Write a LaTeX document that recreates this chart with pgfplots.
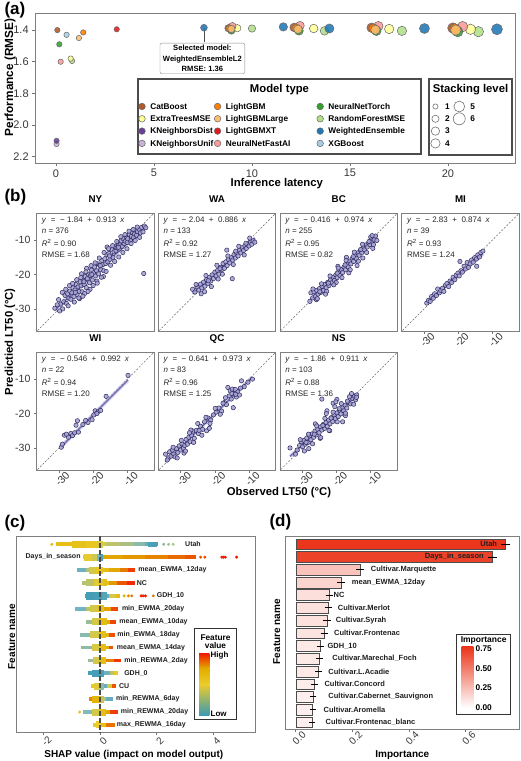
\documentclass[border=0pt]{standalone}
\usepackage{fontspec}
\setmainfont{Liberation Sans}
\usepackage{pgfplots}
\pgfplotsset{compat=1.18}

% Paired palette for model types
\definecolor{cCat}{HTML}{B15928}
\definecolor{cET}{HTML}{FFFF99}
\definecolor{cKD}{HTML}{6A3D9A}
\definecolor{cKU}{HTML}{CAB2D6}
\definecolor{cLG}{HTML}{FF7F00}
\definecolor{cLGL}{HTML}{FDBF6F}
\definecolor{cLGX}{HTML}{E31A1C}
\definecolor{cNNF}{HTML}{FB9A99}
\definecolor{cNNT}{HTML}{33A02C}
\definecolor{cRF}{HTML}{B2DF8A}
\definecolor{cWE}{HTML}{1F78B4}
\definecolor{cXGB}{HTML}{A6CEE3}
\definecolor{frm}{HTML}{7F7F7F}
\definecolor{ptfill}{HTML}{A7A3D6}
\definecolor{ptdraw}{HTML}{2F2B5C}
\definecolor{regline}{HTML}{6C68B4}
\definecolor{imp}{RGB}{235,52,25}
\definecolor{zA}{HTML}{3B9AB2}
\definecolor{zC}{HTML}{EBCC2A}
\definecolor{zD}{HTML}{E1AF00}
\definecolor{zE}{HTML}{F21A00}

\newcommand\fs[1]{\fontsize{#1}{#1}\selectfont}
\newcommand\eqn[2]{\textit{y}\hspace{4.5pt}=\hspace{4.5pt}−\hspace{2.5pt}#1\hspace{4.5pt}+\hspace{4.5pt}#2\hspace{4pt}\textit{x}}
\newcommand\stats[5]{%
  \node[st] at (rel axis cs:0.043,0.925) {\eqn{#1}{#2}};
  \node[st] at (rel axis cs:0.043,0.826) {\textit{n} = #3};
  \node[st] at (rel axis cs:0.043,0.722) {\textit{R}\textsuperscript{2} = #4};
  \node[st] at (rel axis cs:0.043,0.623) {RMSE = #5};}

\tikzset{
  st/.style={anchor=base west, inner sep=0pt, font=\fs{8}, text=black!85},
  fl/.style={inner sep=0pt, font=\fs{7}\bfseries, text=black!88},
  lg/.style={anchor=north west, draw=none, fill=none, inner sep=0pt,
    font=\fs{8.3}\bfseries, nodes={inner sep=1pt, text height=7.8pt, text depth=2.5pt},
    row sep=0pt, /tikz/every odd column/.append style={column sep=4pt}},
}

\pgfplotsset{
  gg/.style={scale only axis, anchor=north west,
    axis line style={draw=frm, line width=0.9pt},
    tick style={draw=black!55, line width=0.6pt},
    tick align=outside, major tick length=2.8pt, tick pos=left,
    tick label style={font=\fs{10}, text=black!78},
    /pgf/number format/assume math mode=true},
  rot/.style={xticklabel style={yshift=-2.5pt, rotate=45, anchor=north, inner sep=1pt}},
  mt/.style={scatter, only marks, mark=*, forget plot, point meta=\thisrow{r},
    scatter/use mapped color={draw=black!60, fill=#1, fill opacity=0.88, line width=0.5pt},
    visualization depends on={\thisrow{r} \as \rr},
    scatter/@pre marker code/.append style={/tikz/mark size=\rr pt}},
  mk/.style={only marks, mark=*, mark size=3.3pt, mark options={fill=#1, draw=black!60, line width=0.5pt}},
  sl/.style={only marks, mark=*, mark options={fill=white, draw=black!55, line width=0.6pt}},
  bp/.style={gg, width=117.3pt, height=118pt, xmin=-36.5, xmax=-2.2, ymin=-36.5, ymax=-2.2,
    xtick={-30,-20,-10}, ytick={-30,-20,-10}, rot, tick label style={font=\fs{10.5}},
    title style={font=\fs{9.8}\bfseries, at={(0.5,1)}, anchor=base, yshift=4.5pt, inner sep=0pt}},
  diag/.style={black!60, line width=0.5pt, dash pattern=on 2pt off 1.6pt, forget plot},
  pts/.style={only marks, mark=*, mark size=2.2pt, mark options={fill=ptfill, draw=ptdraw, line width=0.5pt, fill opacity=0.9}},
  rib/.style={regline!50, line width=3.8pt, opacity=0.55},
  rl/.style={regline, line width=1.3pt},
  sw/.style={mesh, point meta=explicit, line width=#1, forget plot},
  dt/.style={scatter, only marks, mark=*, mark size=1.3pt, point meta=explicit,
    scatter/use mapped color={draw=mapped color, fill=mapped color}},
  br/.style={fill=imp!#1!white, draw=black!70, line width=0.5pt,
    error bars/x dir=both, error bars/x explicit,
    error bars/error bar style={black, line width=0.9pt},
    error bars/error mark options={black, mark size=2.6pt, line width=0.9pt}},
}

\begin{document}
\begin{tikzpicture}[x=1pt,y=1pt]
\useasboundingbox (0,0) rectangle (520,761);

% ================= (a) =================
\begin{axis}[gg, at={(35pt,748pt)}, width=480pt, height=150pt,
  xmin=-1.07, xmax=23.42, ymin=1.292, ymax=2.24, y dir=reverse,
  xtick={0,5,10,15,20}, ytick={1.4,1.6,1.8,2.0,2.2},
  tick label style={font=\fs{11}},
  yticklabel style={/pgf/number format/.cd, fixed, fixed zerofill, precision=1}]
\draw[black!70, line width=0.6pt] (axis cs:7.55,1.385) -- (axis cs:7.55,1.474);
\addplot[mt=cRF] table[row sep=\\]{x y r\\ 0.82 1.595 2.7\\ 10.0 1.390 3.7\\ 13.7 1.405 4.3\\ 17.65 1.405 4.7\\ 21.55 1.410 5.2\\};
\addplot[mt=cET] table[row sep=\\]{x y r\\ 0.75 1.580 2.7\\ 9.25 1.388 3.7\\ 13.15 1.390 4.3\\ 17.0 1.393 4.7\\ 21.15 1.395 5.2\\};
\addplot[mt=cXGB] table[row sep=\\]{x y r\\ 0.54 1.430 2.7\\};
\addplot[mt=cKU] table[row sep=\\]{x y r\\ 0.03 2.120 2.7\\};
\addplot[mt=cKD] table[row sep=\\]{x y r\\ 0.03 2.100 2.7\\};
\addplot[mt=cLGX] table[row sep=\\]{x y r\\ 3.10 1.395 2.7\\};
\addplot[mt=cWE] table[row sep=\\]{x y r\\ 7.55 1.385 3.4\\ 11.6 1.380 4.2\\ 13.95 1.390 4.6\\ 18.8 1.390 5.0\\ 22.5 1.395 5.5\\};
\addplot[mt=cNNF] table[row sep=\\]{x y r\\ 0.24 1.600 2.7\\ 9.0 1.375 3.7\\ 12.45 1.372 4.3\\ 16.45 1.375 4.7\\ 20.75 1.378 5.2\\};
\addplot[mt=cNNT] table[row sep=\\]{x y r\\ 0.17 1.490 2.7\\ 8.95 1.403 3.7\\ 12.4 1.405 4.3\\ 16.35 1.405 4.7\\ 20.5 1.410 5.2\\};
\addplot[mt=cCat] table[row sep=\\]{x y r\\ 0.07 1.400 2.7\\ 8.80 1.388 3.7\\ 12.15 1.383 4.3\\ 16.10 1.385 4.7\\ 20.25 1.387 5.2\\};
\addplot[mt=cLG] table[row sep=\\]{x y r\\ 1.39 1.415 2.7\\ 8.85 1.390 3.7\\ 12.25 1.388 4.3\\ 16.2 1.390 4.7\\ 20.35 1.392 5.2\\};
\addplot[mt=cLGL] table[row sep=\\]{x y r\\ 1.17 1.450 2.7\\ 8.95 1.393 3.7\\ 12.35 1.395 4.3\\ 16.3 1.398 4.7\\ 20.4 1.400 5.2\\};
\node[draw=black!45, fill=white, rounded corners=2pt, align=center,
  font=\fontsize{7.6}{10.5}\selectfont\bfseries, inner xsep=3pt, inner ysep=2pt]
  at (axis cs:7.47,1.579) {Selected model:\\WeightedEnsembleL2\\RMSE: 1.36};
\end{axis}

% model type legend
\draw[black!70, line width=1.1pt, fill=white] (138,682) rectangle (421,607);
\node[font=\fs{11.3}\bfseries] at (279.5,671) {Model type};
\begin{axis}[scale only axis, hide axis, anchor=north west, at={(35pt,748pt)}, width=480pt, height=150pt,
  xmin=0, xmax=1, ymin=0, ymax=1, legend columns=4, transpose legend, legend cell align=left,
  legend style={lg, at={(0.2156,0.419)}}]
\addplot[draw=none, forget plot] coordinates {(0,0)};
\addlegendimage{mk=cCat}\addlegendentry{\makebox[63pt][l]{CatBoost}}
\addlegendimage{mk=cET}\addlegendentry{\makebox[63pt][l]{ExtraTreesMSE}}
\addlegendimage{mk=cKD}\addlegendentry{\makebox[63pt][l]{KNeighborsDist}}
\addlegendimage{mk=cKU}\addlegendentry{\makebox[63pt][l]{KNeighborsUnif}}
\addlegendimage{mk=cLG}\addlegendentry{\makebox[90pt][l]{LightGBM}}
\addlegendimage{mk=cLGL}\addlegendentry{\makebox[90pt][l]{LightGBMLarge}}
\addlegendimage{mk=cLGX}\addlegendentry{\makebox[90pt][l]{LightGBMXT}}
\addlegendimage{mk=cNNF}\addlegendentry{\makebox[90pt][l]{NeuralNetFastAI}}
\addlegendimage{mk=cNNT}\addlegendentry{NeuralNetTorch}
\addlegendimage{mk=cRF}\addlegendentry{RandomForestMSE}
\addlegendimage{mk=cWE}\addlegendentry{WeightedEnsemble}
\addlegendimage{mk=cXGB}\addlegendentry{XGBoost}
\end{axis}

% stacking level legend
\draw[black!70, line width=1.1pt, fill=white] (429,682) rectangle (512,606);
\node[font=\fs{11.3}\bfseries] at (470.5,671) {Stacking level};
\begin{axis}[scale only axis, hide axis, anchor=north west, at={(35pt,748pt)}, width=480pt, height=150pt,
  xmin=0, xmax=1, ymin=0, ymax=1, legend columns=2, legend cell align=left,
  legend style={lg, at={(0.824,0.419)}}]
\addplot[draw=none, forget plot] coordinates {(0,0)};
\addlegendimage{sl, mark size=2.6pt}\addlegendentry{1}
\addlegendimage{sl, mark size=5.4pt}\addlegendentry{5}
\addlegendimage{sl, mark size=3.6pt}\addlegendentry{2}
\addlegendimage{sl, mark size=6pt}\addlegendentry{6}
\addlegendimage{sl, mark size=4.2pt}\addlegendentry{3}
\addlegendimage{empty legend}\addlegendentry{}
\addlegendimage{sl, mark size=4.7pt}\addlegendentry{4}
\addlegendimage{empty legend}\addlegendentry{}
\end{axis}

\node[anchor=west, font=\fs{17}\bfseries] at (1,751) {(a)};
\node[rotate=90, font=\fs{11.8}\bfseries] at (10,683.5) {Performance (RMSE)};
\node[font=\fs{11.3}\bfseries] at (276.8,577) {Inference latency};

% ================= (b) =================
\begin{axis}[bp, at={(36.7pt,547.7pt)}, title=NY, xtick=\empty]
\addplot[diag] coordinates {(-40,-40) (0,0)};
\addplot[pts] coordinates {(-31.2,-29.8) (-30.1,-27.3) (-29.5,-28.6) (-29.0,-25.2) (-28.6,-27.9) (-28.2,-26.1) (-27.8,-28.4) (-27.5,-25.6) (-27.1,-26.9) (-26.8,-24.8) (-26.5,-27.2) (-26.2,-25.3) (-25.9,-23.9) (-25.6,-26.4) (-25.3,-24.5) (-25.0,-22.9) (-24.7,-25.8) (-24.4,-23.6) (-24.1,-24.9) (-23.8,-22.1) (-23.5,-23.3) (-23.2,-25.0) (-22.9,-21.8) (-22.6,-22.9) (-22.3,-20.6) (-22.0,-23.8) (-21.7,-21.2) (-21.4,-19.9) (-21.1,-22.4) (-20.8,-20.3) (-20.5,-18.7) (-20.2,-21.6) (-19.9,-19.5) (-19.6,-17.8) (-19.3,-20.4) (-19.0,-18.9) (-18.7,-16.9) (-18.4,-19.8) (-18.1,-17.3) (-17.8,-18.6) (-17.5,-15.9) (-17.2,-17.1) (-16.9,-18.9) (-16.6,-15.4) (-16.3,-16.8) (-16.0,-14.2) (-15.7,-16.3) (-15.4,-13.9) (-15.1,-15.6) (-14.8,-14.6) (-14.5,-12.8) (-14.2,-15.0) (-13.9,-13.4) (-13.6,-11.9) (-13.3,-13.1) (-13.0,-12.2) (-12.7,-10.9) (-12.4,-12.6) (-12.1,-11.4) (-11.8,-10.2) (-11.5,-11.8) (-11.2,-9.6) (-10.9,-11.0) (-10.6,-10.3) (-10.3,-9.1) (-10.0,-10.7) (-9.7,-9.5) (-9.4,-8.4) (-9.1,-10.1) (-8.8,-8.9) (-8.5,-7.8) (-8.2,-9.3) (-7.9,-8.2) (-7.6,-7.1) (-7.3,-8.6) (-7.0,-7.5) (-6.6,-6.8) (-6.2,-7.9) (-5.8,-6.3) (-5.4,-7.6) (-5.0,-5.9) (-4.6,-6.4) (-5.2,-19.7) (-26.9,-23.2) (-24.0,-27.0) (-20.9,-24.3) (-22.5,-25.5) (-18.9,-21.9) (-17.0,-20.6) (-15.9,-12.0) (-28.9,-30.0) (-23.4,-19.8) (-21.9,-18.2)
 (-30.5,-28.8) (-29.8,-30.6) (-28.0,-24.3) (-27.3,-29.1) (-26.0,-22.6) (-25.5,-28.0) (-24.8,-21.5) (-24.2,-26.8) (-23.6,-20.9) (-23.0,-26.3) (-22.1,-19.2) (-21.5,-24.9) (-20.6,-17.4) (-20.0,-23.2) (-19.4,-16.6) (-18.8,-22.5) (-18.2,-15.2) (-17.6,-20.8) (-16.8,-13.6) (-16.2,-19.1) (-15.5,-12.5) (-14.9,-17.3) (-14.3,-11.6) (-13.7,-16.2) (-13.1,-10.4) (-12.5,-14.9) (-11.9,-9.0) (-11.3,-13.6) (-10.7,-8.4) (-10.1,-12.5) (-9.5,-7.4) (-8.9,-11.0) (-8.3,-6.9) (-7.7,-10.1) (-7.1,-6.2) (-6.4,-9.2) (-25.2,-25.2) (-22.7,-22.1) (-20.4,-20.0) (-17.9,-17.4) (-15.2,-14.6) (-12.6,-12.1) (-9.9,-9.6)};
\addplot[rib] coordinates {(-31.2,-30.33) (-4.6,-6.04)};
\addplot[rl] coordinates {(-31.2,-30.33) (-4.6,-6.04)};
\stats{1.84}{0.913}{376}{0.90}{1.68}
\end{axis}

\begin{axis}[bp, at={(158.4pt,547.7pt)}, title=WA, xtick=\empty, ytick=\empty]
\addplot[diag] coordinates {(-40,-40) (0,0)};
\addplot[pts] coordinates {(-26.5,-24.3) (-25.8,-25.1) (-25.2,-23.6) (-24.7,-24.5) (-24.2,-22.8) (-23.8,-23.9) (-23.3,-22.2) (-22.9,-23.4) (-22.4,-21.5) (-22.0,-22.6) (-21.6,-20.8) (-21.2,-21.9) (-20.8,-20.1) (-20.4,-21.2) (-20.0,-19.3) (-19.6,-20.4) (-19.2,-18.8) (-18.8,-19.9) (-18.4,-17.9) (-18.0,-18.6) (-17.6,-16.8) (-17.2,-18.2) (-16.8,-16.3) (-16.4,-17.4) (-16.0,-15.6) (-15.6,-16.6) (-15.2,-15.1) (-14.8,-15.8) (-14.4,-14.2) (-14.0,-15.2) (-13.6,-13.8) (-13.2,-14.6) (-12.8,-12.9) (-12.4,-13.7) (-12.0,-12.2) (-11.6,-13.0) (-11.2,-11.6) (-10.8,-12.4) (-10.4,-11.1) (-10.0,-11.7) (-9.6,-10.6) (-9.2,-11.2) (-8.8,-10.2) (-8.3,-10.6) (-14.9,-21.2) (-16.5,-12.9) (-23.0,-25.0) (-19.0,-21.3)
 (-25.5,-22.9) (-24.0,-25.6) (-22.6,-20.3) (-21.0,-23.5) (-19.4,-17.3) (-17.8,-19.9) (-16.2,-14.6) (-14.6,-17.1) (-13.0,-11.8) (-11.4,-14.3) (-9.8,-9.4) (-21.9,-21.8) (-18.5,-18.3) (-13.9,-13.2) (-10.9,-10.9)};
\addplot[rib] coordinates {(-26.5,-25.52) (-8.3,-9.39)};
\addplot[rl] coordinates {(-26.5,-25.52) (-8.3,-9.39)};
\stats{2.04}{0.886}{133}{0.92}{1.27}
\end{axis}

\begin{axis}[bp, at={(280.1pt,547.7pt)}, title=BC, xtick=\empty, ytick=\empty]
\addplot[diag] coordinates {(-40,-40) (0,0)};
\addplot[pts] coordinates {(-27.5,-25.3) (-27.0,-26.8) (-26.6,-25.0) (-26.2,-26.3) (-25.8,-24.6) (-25.4,-25.7) (-25.0,-24.1) (-24.6,-25.2) (-24.2,-23.5) (-23.8,-24.6) (-23.4,-22.9) (-23.0,-23.8) (-22.6,-22.3) (-22.2,-23.2) (-21.8,-21.6) (-21.4,-22.4) (-21.0,-20.8) (-20.6,-21.7) (-20.2,-20.1) (-19.8,-20.9) (-19.4,-19.2) (-19.0,-20.3) (-18.6,-18.6) (-18.2,-19.4) (-17.8,-17.8) (-17.4,-18.6) (-17.0,-16.9) (-16.6,-17.8) (-16.2,-16.1) (-15.8,-16.9) (-15.4,-15.3) (-15.0,-16.2) (-14.6,-14.5) (-14.2,-15.3) (-13.8,-13.7) (-13.4,-14.4) (-13.0,-12.9) (-12.6,-13.6) (-12.2,-12.1) (-11.8,-12.8) (-11.4,-11.4) (-11.0,-12.0) (-10.6,-10.8) (-10.2,-11.3) (-9.8,-9.4) (-9.4,-10.5) (-9.0,-9.9) (-8.6,-8.8) (-8.2,-10.1) (-25.9,-27.3) (-22.9,-24.9) (-20.1,-22.3) (-17.1,-15.0) (-14.0,-17.4) (-12.3,-15.2) (-9.4,-12.4) (-16.4,-19.5) (-19.6,-17.6)
 (-27.8,-27.8) (-26.9,-24.2) (-25.6,-27.0) (-24.4,-22.7) (-23.2,-25.7) (-21.9,-20.4) (-20.8,-23.0) (-19.5,-18.1) (-18.4,-20.9) (-17.2,-15.9) (-16.0,-18.6) (-14.8,-13.5) (-13.6,-16.1) (-12.4,-11.2) (-11.2,-13.6) (-10.0,-9.1) (-9.2,-11.3) (-24.9,-25.0) (-22.4,-22.5) (-19.8,-19.6) (-17.5,-17.2) (-15.1,-14.8) (-12.9,-12.7) (-10.5,-10.4) (-9.6,-8.7)};
\addplot[rib] coordinates {(-27.5,-27.20) (-8.2,-8.40)};
\addplot[rl] coordinates {(-27.5,-27.20) (-8.2,-8.40)};
\stats{0.416}{0.974}{255}{0.95}{0.82}
\end{axis}

\begin{axis}[bp, at={(401.8pt,547.7pt)}, title=MI, ytick=\empty]
\addplot[diag] coordinates {(-40,-40) (0,0)};
\addplot[pts] coordinates {(-29.2,-28.3) (-28.7,-27.5) (-28.2,-27.8) (-27.8,-26.4) (-27.3,-26.9) (-26.9,-25.6) (-26.4,-26.1) (-26.0,-24.2) (-25.5,-25.3) (-25.1,-24.6) (-24.6,-24.0) (-24.2,-24.9) (-23.7,-23.1) (-23.3,-22.6) (-22.8,-23.5) (-22.4,-21.9) (-21.9,-22.3) (-21.5,-20.8) (-21.0,-21.5) (-20.6,-20.2) (-20.1,-19.6) (-19.7,-20.4) (-19.2,-18.9) (-18.8,-19.3) (-18.3,-17.6) (-17.9,-18.4) (-17.4,-16.5) (-17.0,-17.9) (-16.5,-16.9) (-16.1,-15.8) (-15.6,-16.4) (-15.2,-15.1) (-14.7,-15.5) (-14.3,-14.3) (-13.8,-14.9) (-13.4,-13.6) (-12.8,-13.2) (-14.6,-17.6) (-19.5,-16.2)};
\addplot[rib] coordinates {(-29.2,-28.35) (-12.8,-14.02)};
\addplot[rl] coordinates {(-29.2,-28.35) (-12.8,-14.02)};
\stats{2.83}{0.874}{39}{0.93}{1.24}
\end{axis}

\begin{axis}[bp, at={(36.7pt,408.7pt)}, title=WI]
\addplot[diag] coordinates {(-40,-40) (0,0)};
\addplot[pts] coordinates {(-29.3,-29.8) (-29.0,-28.9) (-28.4,-26.3) (-27.2,-26.9) (-26.5,-25.8) (-26.0,-26.4) (-25.4,-25.6) (-25.0,-23.4) (-24.6,-22.1) (-24.3,-25.4) (-23.0,-23.2) (-21.5,-22.6) (-20.3,-21.8) (-19.8,-20.4) (-19.4,-19.2) (-18.6,-19.5) (-17.8,-19.1) (-16.2,-15.0) (-27.8,-26.0) (-22.2,-22.0) (-18.9,-20.0) (-9.8,-8.9)};
\addplot[rib] coordinates {(-29.3,-29.61) (-9.8,-10.27)};
\addplot[rl] coordinates {(-29.3,-29.61) (-9.8,-10.27)};
\stats{0.546}{0.992}{22}{0.94}{1.20}
\end{axis}

\begin{axis}[bp, at={(158.4pt,408.7pt)}, title=QC, ytick=\empty]
\addplot[diag] coordinates {(-40,-40) (0,0)};
\addplot[pts] coordinates {(-34.4,-31.8) (-33.6,-32.9) (-33.2,-31.1) (-32.8,-32.4) (-32.4,-30.6) (-32.0,-31.8) (-31.6,-32.6) (-31.2,-30.2) (-30.8,-31.3) (-30.4,-29.4) (-30.0,-30.6) (-29.6,-28.8) (-29.2,-30.1) (-28.8,-29.3) (-28.4,-27.5) (-28.0,-28.9) (-27.6,-26.9) (-27.2,-28.2) (-26.8,-26.4) (-26.4,-25.1) (-26.0,-27.2) (-25.4,-24.9) (-24.8,-25.8) (-24.2,-23.7) (-23.6,-24.6) (-23.0,-22.4) (-22.4,-25.0) (-22.0,-21.3) (-21.6,-24.3) (-21.2,-21.9) (-20.4,-20.4) (-19.6,-19.6) (-18.8,-18.4) (-18.0,-19.3) (-17.2,-16.8) (-16.6,-17.4) (-16.2,-12.4) (-15.8,-14.9) (-15.5,-13.4) (-15.2,-15.8) (-14.9,-12.9) (-14.6,-18.3) (-14.3,-14.1) (-14.0,-13.0) (-13.7,-15.2) (-13.3,-13.7) (-12.8,-14.6) (-12.2,-10.5) (-11.4,-12.2) (-9.0,-10.0) (-29.0,-31.5) (-27.0,-24.8)
 (-33.9,-33.5) (-32.2,-29.8) (-31.0,-32.9) (-29.8,-27.8) (-28.6,-30.9) (-27.4,-25.6) (-26.2,-28.4) (-25.0,-22.9) (-23.8,-26.3) (-22.6,-21.1) (-21.4,-22.9) (-19.9,-18.5) (-18.4,-20.2) (-16.9,-15.4) (-15.0,-14.2) (-13.9,-14.4) (-12.5,-12.6) (-10.3,-10.9) (-24.6,-24.9) (-17.6,-17.0)};
\addplot[rib] coordinates {(-34.4,-34.11) (-9.0,-9.40)};
\addplot[rl] coordinates {(-34.4,-34.11) (-9.0,-9.40)};
\stats{0.641}{0.973}{83}{0.96}{1.25}
\end{axis}

\begin{axis}[bp, at={(280.1pt,408.7pt)}, title=NS, ytick=\empty]
\addplot[diag] coordinates {(-40,-40) (0,0)};
\addplot[pts] coordinates {(-33.6,-30.0) (-31.5,-30.6) (-30.8,-29.3) (-30.3,-28.2) (-29.9,-29.6) (-29.5,-27.8) (-29.1,-28.9) (-28.7,-27.1) (-28.3,-28.4) (-27.9,-26.5) (-27.5,-27.6) (-27.1,-25.9) (-26.7,-26.9) (-26.3,-25.1) (-25.9,-26.2) (-25.5,-24.6) (-25.1,-25.6) (-24.7,-23.9) (-24.3,-24.8) (-23.9,-23.2) (-23.5,-24.3) (-23.1,-22.6) (-22.7,-23.7) (-22.3,-21.9) (-21.9,-23.0) (-21.5,-21.2) (-21.1,-22.3) (-20.7,-20.4) (-20.3,-21.5) (-19.9,-19.8) (-19.5,-20.9) (-19.1,-19.0) (-18.7,-20.1) (-18.3,-18.4) (-17.9,-19.2) (-17.5,-17.6) (-17.0,-18.4) (-16.5,-16.9) (-15.9,-17.2) (-15.3,-15.6) (-14.8,-14.9) (-14.4,-16.0) (-14.1,-14.6) (-24.3,-15.8) (-19.9,-15.9) (-21.0,-17.0) (-22.8,-19.2) (-26.2,-23.0) (-28.1,-30.2) (-24.8,-27.2) (-22.0,-25.0) (-18.2,-22.4) (-20.5,-18.0) (-17.4,-20.6)
 (-32.0,-31.8) (-30.6,-27.6) (-29.4,-30.9) (-28.2,-26.0) (-27.0,-28.8) (-25.8,-23.6) (-24.6,-27.0) (-23.4,-21.4) (-22.2,-24.9) (-21.0,-19.6) (-19.8,-22.4) (-18.6,-17.1) (-17.4,-19.9) (-16.2,-15.1) (-15.0,-17.3) (-14.2,-15.3) (-28.9,-28.4) (-26.5,-26.0) (-24.0,-23.5) (-21.6,-21.3) (-19.2,-18.6) (-16.8,-16.4) (-23.0,-20.0) (-20.2,-16.6) (-15.6,-14.2)};
\addplot[rib] coordinates {(-33.6,-32.47) (-14.1,-14.71)};
\addplot[rl] coordinates {(-33.6,-32.47) (-14.1,-14.71)};
\stats{1.86}{0.911}{103}{0.88}{1.36}
\end{axis}

\node[anchor=west, font=\fs{17}\bfseries] at (1,564) {(b)};
\node[rotate=90, font=\fs{11.3}\bfseries] at (10,419.3) {Predictied LT50 (°C)};
\node[font=\fs{11.3}\bfseries] at (279,268) {Observed LT50 (°C)};

% ================= (c) =================
\begin{axis}[gg, at={(16.7pt,225pt)}, width=238.3pt, height=196.7pt,
  xmin=-2.94, xmax=5.47, ymin=0.36, ymax=15.6, y dir=reverse,
  ytick=\empty, xtick={-2,0,2,4}, rot,
  colormap={zis}{rgb255=(59,154,178) rgb255=(120,183,197) rgb255=(235,204,42) rgb255=(225,175,0) rgb255=(242,26,0)},
  point meta min=0, point meta max=1]
% Utah
\addplot[sw=3.8pt] coordinates {(-1.55,1)[0.62] (-1.1,1)[0.6] (-0.6,1)[0.57] (-0.2,1)[0.52] (0.2,1)[0.42] (0.7,1)[0.38] (1.2,1)[0.33] (1.6,1)[0.25] (1.85,1)[0.1] (2.05,1)[0.05]};
\addplot[sw=6.5pt] coordinates {(-1.0,1)[0.6] (-0.5,1)[0.58] (-0.1,1)[0.5] (0.1,1)[0.42]};
\addplot[sw=5.5pt] coordinates {(1.7,1)[0.08] (1.85,1)[0.05] (2.0,1)[0.05]};
% Days_in_season
\addplot[sw=3.5pt] coordinates {(-0.6,2)[0.45] (-0.3,2)[0.5] (0,2)[0.3] (0.05,2)[0.75] (0.8,2)[0.78] (1.6,2)[0.8] (2.4,2)[0.85] (3.0,2)[0.88] (3.4,2)[0.92]};
\addplot[sw=7pt] coordinates {(-0.55,2)[0.5] (-0.3,2)[0.48] (-0.1,2)[0.4] (0.0,2)[0.1] (0.12,2)[0.05]};
% mean_EWMA_12day
\addplot[sw=3.8pt] coordinates {(-0.82,3)[0.1] (-0.5,3)[0.3] (-0.2,3)[0.45] (0,3)[0.55] (0.3,3)[0.72] (0.7,3)[0.8] (1.0,3)[0.88] (1.25,3)[1]};
\addplot[sw=7pt] coordinates {(-0.4,3)[0.4] (-0.15,3)[0.5] (0.1,3)[0.6]};
% NC
\addplot[sw=3.8pt] coordinates {(-0.65,4)[0.35] (-0.3,4)[0.4] (0,4)[0.5] (0.3,4)[0.72] (0.6,4)[0.85] (0.95,4)[0.95] (1.22,4)[1]};
\addplot[sw=7pt] coordinates {(-0.5,4)[0.38] (-0.2,4)[0.42] (0.1,4)[0.55] (0.25,4)[0.7]};
% GDH_10
\addplot[sw=3.5pt] coordinates {(-0.53,5)[0.05] (0,5)[0.05] (0.3,5)[0.3] (0.55,5)[0.6] (0.7,5)[0.7]};
\addplot[sw=7.5pt] coordinates {(-0.5,5)[0.05] (-0.2,5)[0.02] (0.1,5)[0.08] (0.25,5)[0.15]};
% min_EWMA_20day
\addplot[sw=3.8pt] coordinates {(-0.88,6)[0.15] (-0.5,6)[0.3] (-0.15,6)[0.48] (0.15,6)[0.7] (0.4,6)[0.85] (0.62,6)[1]};
\addplot[sw=7pt] coordinates {(-0.35,6)[0.4] (-0.1,6)[0.5] (0.15,6)[0.7]};
% mean_EWMA_10day
\addplot[sw=3.8pt] coordinates {(-0.5,7)[0.2] (-0.2,7)[0.45] (0.1,7)[0.65] (0.35,7)[0.85] (0.57,7)[1]};
\addplot[sw=7pt] coordinates {(-0.3,7)[0.4] (-0.05,7)[0.5] (0.25,7)[0.78]};
% min_EWMA_18day
\addplot[sw=3.8pt] coordinates {(-0.7,8)[0.15] (-0.3,8)[0.42] (0.05,8)[0.6] (0.3,8)[0.82] (0.52,8)[1]};
\addplot[sw=7pt] coordinates {(-0.35,8)[0.4] (-0.05,8)[0.5] (0.2,8)[0.75]};
% mean_EWMA_14day
\addplot[sw=3.8pt] coordinates {(-0.67,9)[0.2] (-0.3,9)[0.4] (0.05,9)[0.6] (0.3,9)[0.85] (0.47,9)[0.95]};
\addplot[sw=7pt] coordinates {(-0.3,9)[0.42] (-0.05,9)[0.5] (0.2,9)[0.75]};
% min_REWMA_2day
\addplot[sw=3.8pt] coordinates {(-0.41,10)[0.15] (-0.1,10)[0.5] (0.2,10)[0.75] (0.5,10)[0.9] (0.74,10)[1]};
\addplot[sw=7pt] coordinates {(-0.25,10)[0.4] (0,10)[0.5] (0.2,10)[0.75]};
% GDH_0
\addplot[sw=3.8pt] coordinates {(-0.41,11)[0.05] (-0.1,11)[0.05] (0.15,11)[0.1] (0.35,11)[0.3] (0.5,11)[0.5] (0.65,11)[0.55]};
\addplot[sw=7pt] coordinates {(-0.3,11)[0.05] (-0.05,11)[0.02] (0.15,11)[0.1]};
% CU
\addplot[sw=3.8pt] coordinates {(-0.33,12)[0.55] (-0.1,12)[0.5] (0.05,12)[0.25] (0.25,12)[0.1] (0.42,12)[0.8] (0.58,12)[1]};
\addplot[sw=7pt] coordinates {(-0.2,12)[0.5] (0,12)[0.45] (0.15,12)[0.15]};
% min_REWMA_6day
\addplot[sw=3.8pt] coordinates {(-0.4,13)[0.9] (-0.2,13)[0.75] (0,13)[0.5] (0.2,13)[0.25] (0.45,13)[0.1]};
\addplot[sw=7pt] coordinates {(-0.3,13)[0.85] (-0.05,13)[0.55] (0.15,13)[0.3]};
% min_REWMA_20day
\addplot[sw=3.8pt] coordinates {(-0.6,14)[0.15] (-0.25,14)[0.4] (0.05,14)[0.65] (0.35,14)[0.88] (0.63,14)[1]};
\addplot[sw=7pt] coordinates {(-0.3,14)[0.4] (-0.05,14)[0.5] (0.2,14)[0.75]};
% max_REWMA_16day
\addplot[sw=3.8pt] coordinates {(-0.24,15)[0.45] (0,15)[0.5] (0.2,15)[0.75] (0.53,15)[0.95]};
\addplot[sw=7pt] coordinates {(-0.15,15)[0.45] (0.05,15)[0.55]};
% sparse tail points
\addplot[dt] coordinates {(-1.7,1)[0.7] (2.25,1)[0.3] (2.42,1)[0.35] (2.58,1)[0.35]
  (3.55,2)[0.9] (3.7,2)[0.92] (4.3,2)[1] (4.36,2)[1] (4.42,2)[1] (4.82,2)[1]
  (0.85,5)[0.75] (1.0,5)[0.8] (1.12,5)[0.85] (1.45,5)[1] (1.52,5)[1] (1.6,5)[1] (1.88,5)[0.85]
  (-0.72,14)[0.55]};
\draw[black!70, line width=1.1pt, dash pattern=on 5pt off 2pt] (axis cs:0,0.36) -- (axis cs:0,15.6);
\node[fl, anchor=west] at (axis cs:3.0,1) {Utah};
\node[fl, anchor=east] at (axis cs:-0.68,2) {Days\_in\_season};
\node[fl, anchor=west] at (axis cs:1.35,3) {mean\_EWMA\_12day};
\node[fl, anchor=west] at (axis cs:1.29,4) {NC};
\node[fl, anchor=west] at (axis cs:2.0,5) {GDH\_10};
\node[fl, anchor=west] at (axis cs:0.77,6) {min\_EWMA\_20day};
\node[fl, anchor=west] at (axis cs:0.68,7) {mean\_EWMA\_10day};
\node[fl, anchor=west] at (axis cs:0.61,8) {min\_EWMA\_18day};
\node[fl, anchor=west] at (axis cs:0.59,9) {mean\_EWMA\_14day};
\node[fl, anchor=west] at (axis cs:0.85,10) {min\_REWMA\_2day};
\node[fl, anchor=west] at (axis cs:0.85,11) {GDH\_0};
\node[fl, anchor=west] at (axis cs:0.67,12) {CU};
\node[fl, anchor=west] at (axis cs:0.56,13) {min\_REWMA\_6day};
\node[fl, anchor=west] at (axis cs:0.73,14) {min\_REWMA\_20day};
\node[fl, anchor=west] at (axis cs:0.59,15) {max\_REWMA\_16day};
\end{axis}

% colourbar (c)
\draw[black!80, line width=0.8pt, fill=white] (194.3,132.7) rectangle (236.7,41.7);
\node[font=\fs{8.3}\bfseries] at (215.5,123.8) {Feature};
\node[font=\fs{8.3}\bfseries] at (215.5,115.3) {value};
\shade[bottom color=zA, top color=zC] (199,45.9) rectangle (209.3,76.8);
\shade[bottom color=zC, top color=zD] (199,76.8) rectangle (209.3,92.2);
\shade[bottom color=zD, top color=zE] (199,92.2) rectangle (209.3,107.7);
\node[anchor=west, inner sep=0pt, font=\fs{8}\bfseries] at (210.5,105.5) {High};
\node[anchor=west, inner sep=0pt, font=\fs{8}\bfseries] at (210.5,47.5) {Low};

\node[anchor=west, font=\fs{17}\bfseries] at (1,238) {(c)};
\node[rotate=90, font=\fs{10}\bfseries] at (11.7,124.3) {Feature name};
\node[font=\fs{10}\bfseries] at (133.8,6.3) {SHAP value (impact on model output)};

% ================= (d) =================
\begin{axis}[gg, at={(285pt,225pt)}, width=234.3pt, height=193.3pt,
  xmin=-0.038, xmax=0.79, ymin=0.35, ymax=15.55, y dir=reverse,
  ytick=\empty, xtick={0,0.2,0.4,0.6}, rot,
  xticklabel style={/pgf/number format/.cd, fixed, fixed zerofill, precision=1},
  xbar, bar width=10.8pt, bar shift=0pt]
\addplot[br=99] coordinates {(0.742,1) +- (0.007,0)};
\addplot[br=93] coordinates {(0.695,2) +- (0.006,0)};
\addplot[br=30] coordinates {(0.227,3) +- (0.005,0)};
\addplot[br=21] coordinates {(0.160,4) +- (0.004,0)};
\addplot[br=16] coordinates {(0.118,5) +- (0.003,0)};
\addplot[br=15] coordinates {(0.115,6) +- (0.004,0)};
\addplot[br=15] coordinates {(0.110,7) +- (0.004,0)};
\addplot[br=13] coordinates {(0.101,8) +- (0.004,0)};
\addplot[br=11] coordinates {(0.086,9) +- (0.003,0)};
\addplot[br=11] coordinates {(0.084,10) +- (0.003,0)};
\addplot[br=11] coordinates {(0.081,11) +- (0.003,0)};
\addplot[br=9] coordinates {(0.066,12) +- (0.003,0)};
\addplot[br=8] coordinates {(0.062,13) +- (0.002,0)};
\addplot[br=8] coordinates {(0.060,14) +- (0.002,0)};
\addplot[br=8] coordinates {(0.058,15) +- (0.002,0)};
\tikzset{fl/.append style={font=\fs{7.5}\bfseries}}
\node[fl, anchor=east] at (axis cs:0.712,1) {Utah};
\node[fl, anchor=east] at (axis cs:0.665,2) {Days\_in\_season};
\node[fl, anchor=west] at (axis cs:0.265,3) {Cultivar.Marquette};
\node[fl, anchor=west] at (axis cs:0.198,4) {mean\_EWMA\_12day};
\node[fl, anchor=west] at (axis cs:0.133,5) {NC};
\node[fl, anchor=west] at (axis cs:0.148,6) {Cultivar.Merlot};
\node[fl, anchor=west] at (axis cs:0.141,7) {Cultivar.Syrah};
\node[fl, anchor=west] at (axis cs:0.135,8) {Cultivar.Frontenac};
\node[fl, anchor=west] at (axis cs:0.112,9) {GDH\_10};
\node[fl, anchor=west] at (axis cs:0.129,10) {Cultivar.Marechal\_Foch};
\node[fl, anchor=west] at (axis cs:0.115,11) {Cultivar.L.Acadie};
\node[fl, anchor=west] at (axis cs:0.101,12) {Cultivar.Concord};
\node[fl, anchor=west] at (axis cs:0.115,13) {Cultivar.Cabernet\_Sauvignon};
\node[fl, anchor=west] at (axis cs:0.098,14) {Cultivar.Aromella};
\node[fl, anchor=west] at (axis cs:0.105,15) {Cultivar.Frontenac\_blanc};
\end{axis}

% colourbar (d)
\draw[black!80, line width=0.8pt, fill=white] (456.7,127) rectangle (510.7,47);
\node[font=\fs{8.5}\bfseries] at (483.7,120.3) {Importance};
\shade[bottom color=white, top color=imp] (461.7,53.3) rectangle (473.3,114.5);
\node[anchor=west, inner sep=0pt, font=\fs{8.3}\bfseries] at (475.5,112.8) {0.75};
\node[anchor=west, inner sep=0pt, font=\fs{8.3}\bfseries] at (475.5,92.7) {0.50};
\node[anchor=west, inner sep=0pt, font=\fs{8.3}\bfseries] at (475.5,73.0) {0.25};
\node[anchor=west, inner sep=0pt, font=\fs{8.3}\bfseries] at (475.5,53.3) {0.00};

\node[anchor=west, font=\fs{17}\bfseries] at (266,239) {(d)};
\node[rotate=90, font=\fs{10}\bfseries] at (276.7,129.3) {Feature name};
\node[font=\fs{10}\bfseries] at (402.3,6) {Importance};
\end{tikzpicture}
\end{document}
